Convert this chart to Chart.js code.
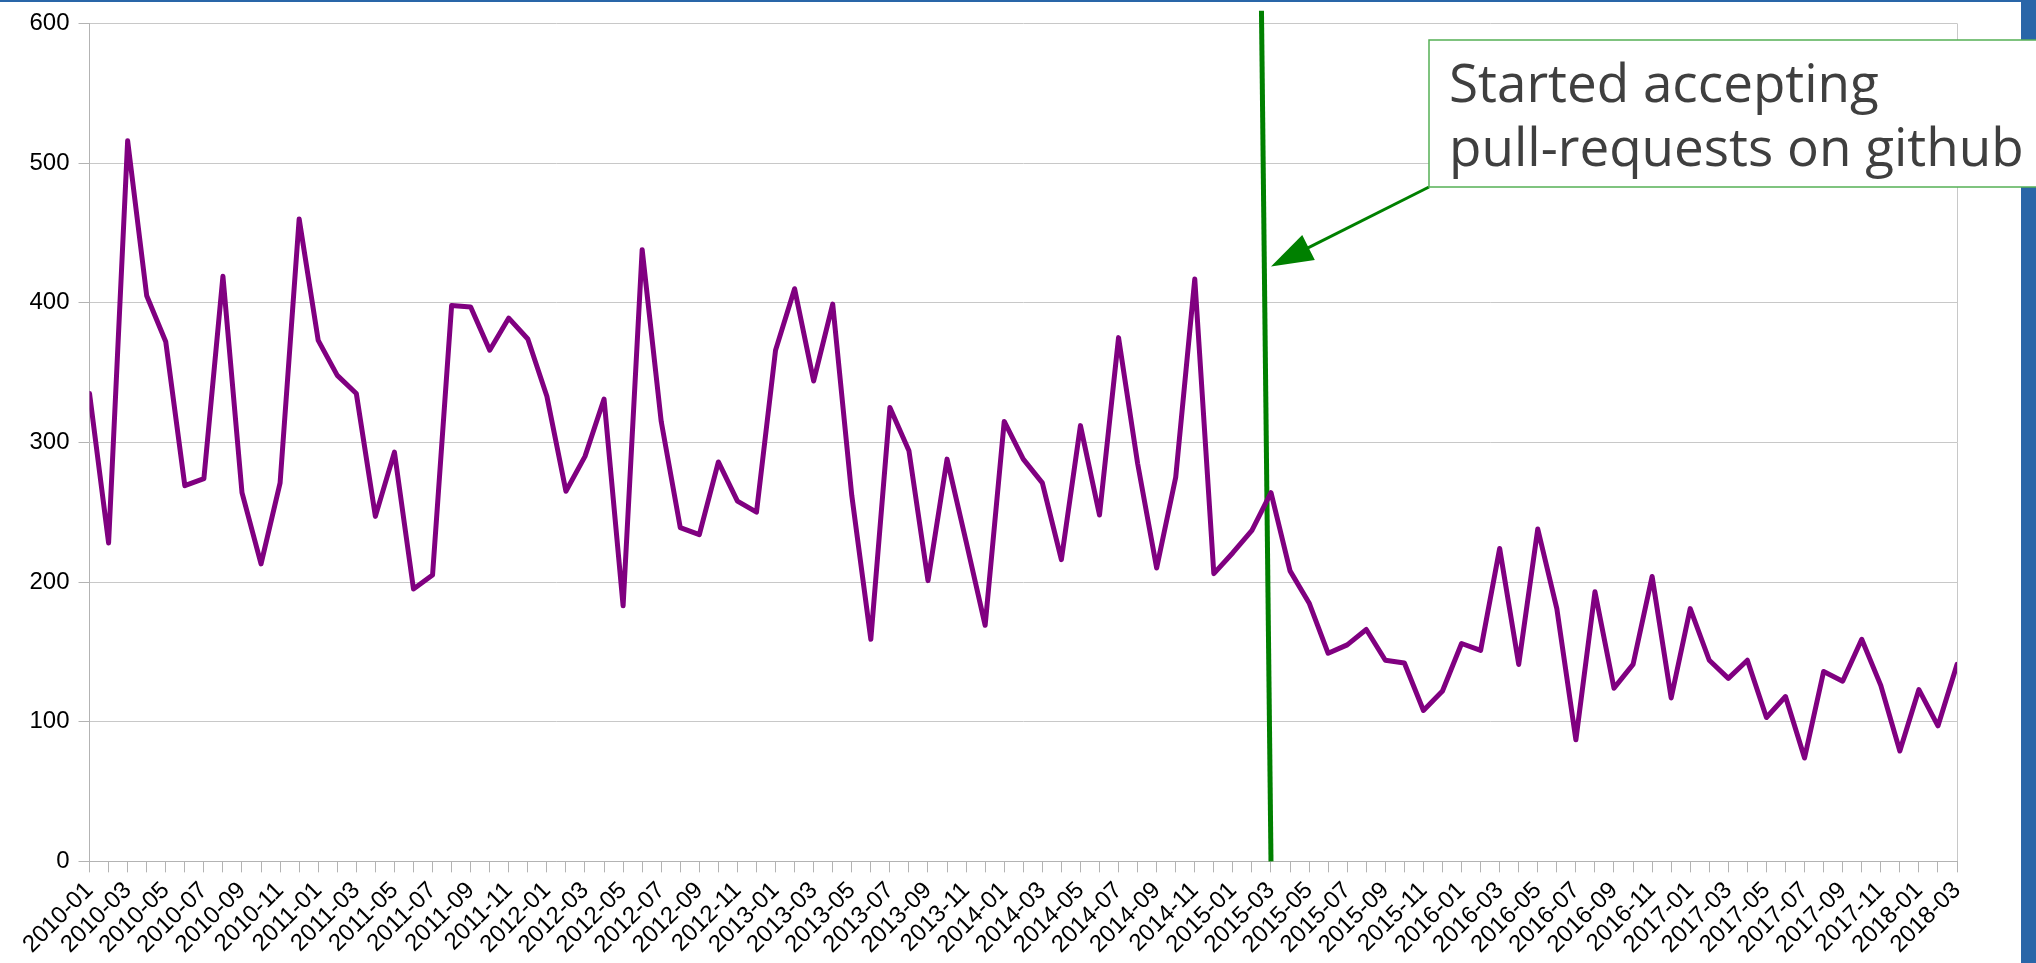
<!DOCTYPE html>
<html>
<head>
<meta charset="utf-8">
<script src="https://cdn.jsdelivr.net/npm/chart.js@4/dist/chart.umd.min.js"></script>
<style>
	html, body { margin: 0; padding: 0; background: #fff; overflow: hidden; }
	canvas { display: block; }
</style>
</head>
<body>
<canvas id="myChart" width="2036" height="963"></canvas>
<script>
const months = [
	"2010-01", "2010-02", "2010-03", "2010-04", "2010-05", "2010-06", "2010-07", "2010-08", "2010-09", "2010-10", "2010-11", "2010-12",
	"2011-01", "2011-02", "2011-03", "2011-04", "2011-05", "2011-06", "2011-07", "2011-08", "2011-09", "2011-10", "2011-11", "2011-12",
	"2012-01", "2012-02", "2012-03", "2012-04", "2012-05", "2012-06", "2012-07", "2012-08", "2012-09", "2012-10", "2012-11", "2012-12",
	"2013-01", "2013-02", "2013-03", "2013-04", "2013-05", "2013-06", "2013-07", "2013-08", "2013-09", "2013-10", "2013-11", "2013-12",
	"2014-01", "2014-02", "2014-03", "2014-04", "2014-05", "2014-06", "2014-07", "2014-08", "2014-09", "2014-10", "2014-11", "2014-12",
	"2015-01", "2015-02", "2015-03", "2015-04", "2015-05", "2015-06", "2015-07", "2015-08", "2015-09", "2015-10", "2015-11", "2015-12",
	"2016-01", "2016-02", "2016-03", "2016-04", "2016-05", "2016-06", "2016-07", "2016-08", "2016-09", "2016-10", "2016-11", "2016-12",
	"2017-01", "2017-02", "2017-03", "2017-04", "2017-05", "2017-06", "2017-07", "2017-08", "2017-09", "2017-10", "2017-11", "2017-12",
	"2018-01", "2018-02", "2018-03"
];

const counts = [
	335, 228, 516, 405, 372, 269, 274, 419, 264, 213, 271, 460,
	373, 348, 335, 247, 293, 195, 205, 398, 397, 366, 389, 374,
	333, 265, 290, 331, 183, 438, 315, 239, 234, 286, 258, 250,
	366, 410, 344, 399, 262, 159, 325, 294, 201, 288, 229, 169,
	315, 288, 271, 216, 312, 248, 375, 285, 210, 275, 417, 206,
	221, 237, 264, 208, 185, 149, 155, 166, 144, 142, 108, 122,
	156, 151, 224, 141, 238, 181, 87, 193, 124, 141, 204, 117,
	181, 144, 131, 144, 103, 118, 74, 136, 129, 159, 126, 79,
	123, 97, 141
];

// vertical marker at 2015-03 (slightly slanted, as drawn in the original)
const markerX = [61.5, 62];
const markerY = [609, 0];

// callout
const noteLines = ["Started accepting", "pull-requests on github"];
const arrowTipX = 62;
const arrowTipY = 426;

const annotation = {
	id: "annotation",
	beforeDraw(chart) {
		const ctx = chart.ctx;
		ctx.save();
		ctx.fillStyle = "#2966a8";
		ctx.fillRect(0, 0, chart.width, 2);
		ctx.fillRect(chart.width - 15, 0, 15, chart.height);
		ctx.restore();
	},
	afterDraw(chart) {
		const ctx = chart.ctx;
		const xs = chart.scales.x;
		const ys = chart.scales.y;
		const box = { left: 1429, top: 40, bottom: 187 };

		ctx.save();
		// arrow
		const tx = xs.getPixelForValue(arrowTipX);
		const ty = ys.getPixelForValue(arrowTipY);
		const sx = box.left;
		const sy = box.bottom;
		const len = Math.hypot(sx - tx, sy - ty);
		const ux = (sx - tx) / len;
		const uy = (sy - ty) / len;
		const headLen = 42, headW = 14;
		ctx.strokeStyle = "#008000";
		ctx.fillStyle = "#008000";
		ctx.lineWidth = 3;
		ctx.beginPath();
		ctx.moveTo(sx, sy);
		ctx.lineTo(tx + ux * headLen * 0.8, ty + uy * headLen * 0.8);
		ctx.stroke();
		ctx.beginPath();
		ctx.moveTo(tx, ty);
		ctx.lineTo(tx + ux * headLen - uy * headW, ty + uy * headLen + ux * headW);
		ctx.lineTo(tx + ux * headLen + uy * headW, ty + uy * headLen - ux * headW);
		ctx.closePath();
		ctx.fill();

		// box
		ctx.fillStyle = "#fff";
		ctx.fillRect(box.left, box.top, chart.width - box.left + 5, box.bottom - box.top);
		ctx.strokeStyle = "#55b055";
		ctx.lineWidth = 1.5;
		ctx.strokeRect(box.left, box.top, chart.width - box.left + 5, box.bottom - box.top);

		ctx.fillStyle = "#3f3f3f";
		ctx.font = '53px "Open Sans"';
		ctx.textBaseline = "alphabetic";
		ctx.textAlign = "left";
		ctx.fillText(noteLines[0], box.left + 20, 102);
		ctx.fillText(noteLines[1], box.left + 20, 166);
		ctx.restore();
	}
};

const config = {
	type: "line",
	data: {
		datasets: [
			{
				label: "count",
				data: counts.map((v, i) => ({ x: i, y: v })),
				borderColor: "#800080",
				backgroundColor: "#800080",
				borderWidth: 5,
				borderJoinStyle: "round",
				borderCapStyle: "round",
				pointRadius: 0,
				tension: 0,
			},
			{
				label: "marker",
				data: markerX.map((x, i) => ({ x: x, y: markerY[i] })),
				borderColor: "#008000",
				borderWidth: 5,
				pointRadius: 0,
				clip: false,
			},
		],
	},
	options: {
		responsive: false,
		animation: false,
		layout: {
			padding: { left: 20.5, top: 8, right: 79, bottom: 0 },
		},
		plugins: {
			legend: { display: false },
			tooltip: { enabled: false },
		},
		scales: {
			x: {
				type: "linear",
				min: 0,
				max: months.length - 1,
				grid: {
					drawOnChartArea: true,
					color: (c) => (c.index === months.length - 1 ? "#c8c8c8" : "rgba(0,0,0,0)"),
					tickColor: "#b3b3b3",
					tickLength: 11,
				},
				border: { color: "#b3b3b3" },
				ticks: {
					stepSize: 1,
					autoSkip: false,
					maxRotation: 45,
					minRotation: 45,
					padding: 4,
					color: "#000",
					font: { family: "Liberation Sans", size: 24 },
					callback: (value) => (value % 2 === 0 ? months[value] : ""),
				},
			},
			y: {
				min: 0,
				max: 600,
				grid: {
					color: "#c8c8c8",
					tickColor: "#b3b3b3",
					tickLength: 11,
				},
				border: { color: "#b3b3b3" },
				ticks: {
					stepSize: 100,
					padding: 9,
					color: "#000",
					font: { family: "Liberation Sans", size: 24 },
				},
			},
		},
	},
	plugins: [annotation],
};

const myChart = new Chart(document.getElementById("myChart"), config);
</script>
</body>
</html>
